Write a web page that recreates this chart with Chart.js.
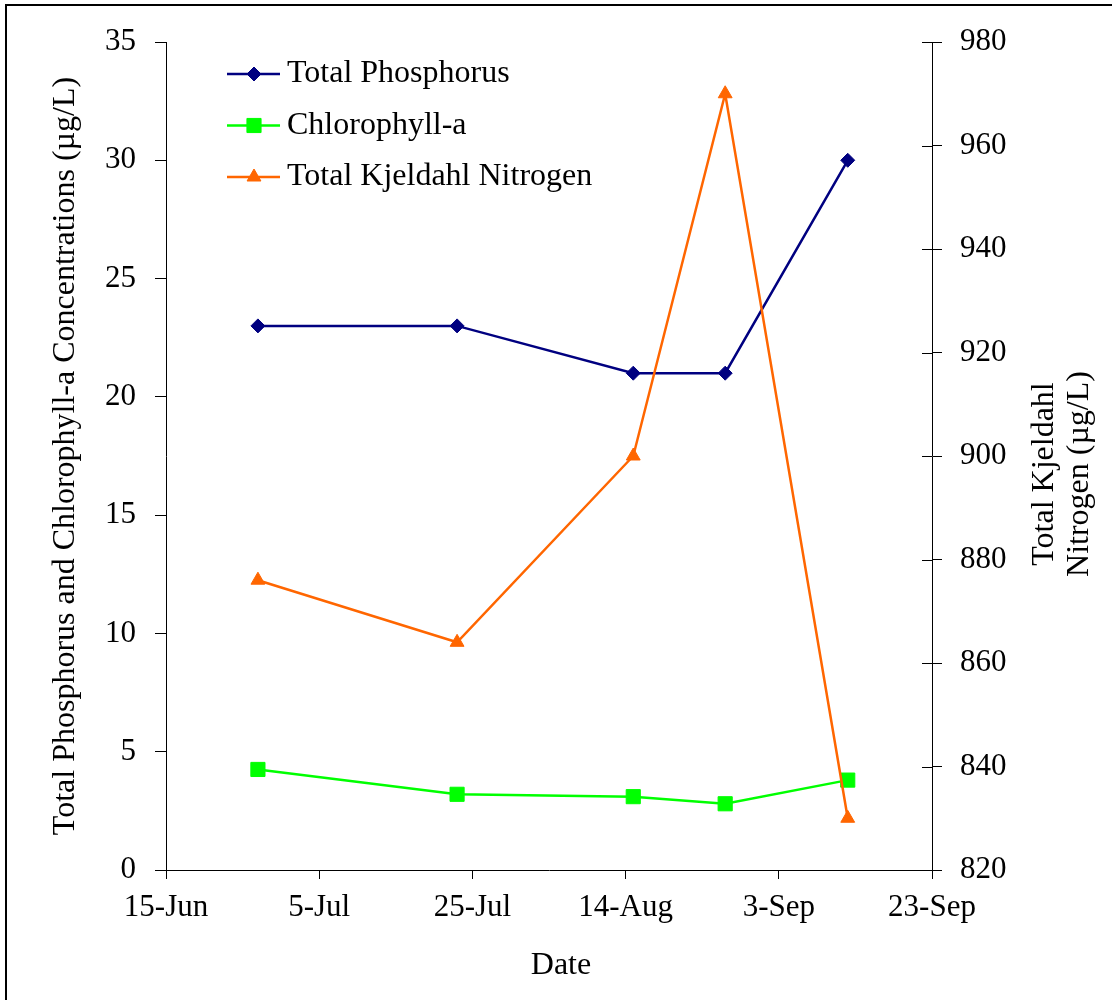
<!DOCTYPE html>
<html>
<head>
<meta charset="utf-8">
<script src="https://cdn.jsdelivr.net/npm/chart.js@4/dist/chart.umd.min.js"></script>
<style>
  html, body { margin: 0; padding: 0; background: #fff; }
  #wrap { width: 1112px; height: 1000px; position: relative; }
</style>
</head>
<body>
<div id="wrap"><canvas id="c" width="1112" height="1000"></canvas></div>
<script>
// ---- data ----
const sampleDates = ['2000-06-27', '2000-07-23', '2000-08-15', '2000-08-27', '2000-09-12'];
const totalPhosphorus = [23, 23, 21, 21, 30];
const chlorophyllA = [4.25, 3.2, 3.1, 2.8, 3.8];
const totalKjeldahlNitrogen = [876, 864, 900, 970, 830];
const xTickLabels = ['15-Jun', '5-Jul', '25-Jul', '14-Aug', '3-Sep', '23-Sep'];
const seriesNames = ['Total Phosphorus', 'Chlorophyll-a', 'Total Kjeldahl Nitrogen'];
const xTitle = 'Date';
const leftTitle = 'Total Phosphorus and Chlorophyll-a Concentrations (µg/L)';
const rightTitle = ['Total Kjeldahl', 'Nitrogen (µg/L)'];

const originDate = '2000-06-15';
const dayMs = 86400000;
function dayOffset(d) { return Math.round((Date.parse(d) - Date.parse(originDate)) / dayMs); }
const xDays = sampleDates.map(dayOffset);
const pts = arr => arr.map((v, i) => ({ x: xDays[i], y: v }));

const FONT = '"Liberation Serif", "Times New Roman", serif';

const datasets = [
  { label: seriesNames[0], data: pts(totalPhosphorus), yAxisID: 'yL', borderColor: '#000080', backgroundColor: '#000080',
    pointStyle: 'rectRot', pointRadius: 7, pointBorderWidth: 1, borderWidth: 2.5, order: 1 },
  { label: seriesNames[1], data: pts(chlorophyllA), yAxisID: 'yL', borderColor: '#00FF00', backgroundColor: '#00FF00',
    pointStyle: 'rect', pointRadius: 10, pointBorderWidth: 1, borderWidth: 2.5, order: 2 },
  { label: seriesNames[2], data: pts(totalKjeldahlNitrogen), yAxisID: 'yR', borderColor: '#FF6600', backgroundColor: '#FF6600',
    pointStyle: 'triangle', pointRadius: 8, pointBorderWidth: 1, borderWidth: 2.5, order: 0 }
];

const frameAndText = {
  id: 'frameAndText',
  afterDraw(chart) {
    const ctx = chart.ctx;
    ctx.save();
    // outer frame
    ctx.strokeStyle = '#000'; ctx.lineWidth = 2;
    ctx.strokeRect(6, 5, 1130, 1020);
    // inner half of right-axis ticks
    const yR = chart.scales.yR;
    ctx.lineWidth = 1;
    yR.ticks.forEach(t => {
      const y = Math.round(yR.getPixelForValue(t.value)) + 0.5;
      ctx.beginPath(); ctx.moveTo(yR.left - 10, y); ctx.lineTo(yR.left, y); ctx.stroke();
    });
    // titles
    ctx.fillStyle = '#000';
    ctx.font = '32px ' + FONT;
    ctx.textAlign = 'center'; ctx.textBaseline = 'middle';
    ctx.fillText(xTitle, 561, 966);
    ctx.save(); ctx.translate(66, 456); ctx.rotate(-Math.PI / 2); ctx.fillText(leftTitle, 0, 0); ctx.restore();
    ctx.save(); ctx.translate(1045, 474); ctx.rotate(-Math.PI / 2); ctx.fillText(rightTitle[0], 0, 0); ctx.restore();
    ctx.save(); ctx.translate(1080, 474); ctx.rotate(-Math.PI / 2); ctx.fillText(rightTitle[1], 0, 0); ctx.restore();
    // legend
    chart.data.datasets.forEach((ds, i) => {
      const y = 74 + i * 51.5;
      ctx.strokeStyle = ds.borderColor; ctx.lineWidth = 2.5;
      ctx.beginPath(); ctx.moveTo(227, y); ctx.lineTo(280, y); ctx.stroke();
      ctx.fillStyle = ds.backgroundColor; ctx.strokeStyle = ds.borderColor; ctx.lineWidth = 1;
      Chart.helpers.drawPoint(ctx, { pointStyle: ds.pointStyle, radius: ds.pointRadius, borderWidth: 1, rotation: 0 }, 254, y);
      ctx.fillStyle = '#000'; ctx.textAlign = 'left'; ctx.textBaseline = 'middle';
      ctx.font = '32px ' + FONT;
      ctx.fillText(ds.label, 287, y);
    });
    ctx.restore();
  }
};

const tickFont = { family: FONT, size: 31 };

new Chart(document.getElementById('c'), {
  type: 'line',
  data: { datasets },
  options: {
    responsive: false,
    animation: false,
    devicePixelRatio: 1,
    layout: { padding: { top: 42, left: 0, right: 0, bottom: 0 } },
    plugins: { legend: { display: false }, tooltip: { enabled: false } },
    elements: { line: { tension: 0 } },
    scales: {
      x: {
        type: 'linear', min: 0, max: 100,
        afterFit(s) { s.height = 130; },
        afterBuildTicks(s) { s.ticks = xTickLabels.map((_, i) => ({ value: i * 20 })); },
        ticks: { font: tickFont, color: '#000', padding: 10, maxRotation: 0, autoSkip: false,
                 callback: (v) => xTickLabels[Math.round(v / 20)] },
        grid: { drawOnChartArea: false, drawTicks: true, tickLength: 9, color: '#000', lineWidth: 1 },
        border: { display: true, color: '#000', width: 1 }
      },
      yL: {
        type: 'linear', position: 'left', min: 0, max: 35,
        afterFit(s) { s.width = 166; },
        ticks: { stepSize: 5, font: tickFont, color: '#000', padding: 19 },
        grid: { drawOnChartArea: false, drawTicks: true, tickLength: 11, color: '#000', lineWidth: 1 },
        border: { display: true, color: '#000', width: 1 }
      },
      yR: {
        type: 'linear', position: 'right', min: 820, max: 980,
        afterFit(s) { s.width = 180; },
        ticks: { stepSize: 20, font: tickFont, color: '#000', padding: 18 },
        grid: { drawOnChartArea: false, drawTicks: true, tickLength: 10, color: '#000', lineWidth: 1 },
        border: { display: true, color: '#000', width: 1 }
      }
    }
  },
  plugins: [frameAndText]
});
</script>
</body>
</html>
